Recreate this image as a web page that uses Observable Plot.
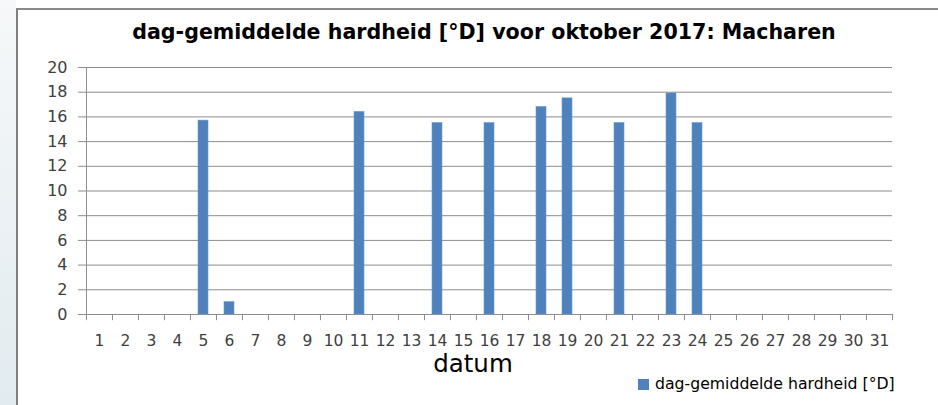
<!DOCTYPE html>
<html><head><meta charset="utf-8">
<script src="https://cdn.jsdelivr.net/npm/d3@7"></script>
<script src="https://cdn.jsdelivr.net/npm/@observablehq/plot@0.6"></script>
<style>
body{margin:0;background:#fff;}
#wrap{position:relative;width:938px;height:405px;overflow:hidden;font-family:"DejaVu Sans",sans-serif;}
#strip{position:absolute;left:0;top:0;width:16px;height:405px;background:linear-gradient(#f6f8f9,#e2ebf0);}
#frame{position:absolute;left:16px;top:8px;width:930px;height:410px;border-left:2px solid #7f7f7f;border-top:2px solid #8a8a8a;}
#chart{position:absolute;left:0;top:0;}
#title{position:absolute;left:0;width:968px;top:22px;text-align:center;font-weight:bold;font-size:20.6px;line-height:20.6px;color:#000;white-space:nowrap;}
#xlabel{position:absolute;left:0;width:946px;top:353.5px;text-align:center;font-size:24.5px;line-height:19px;color:#000;}
#legend{position:absolute;left:638px;top:376px;font-size:15.7px;line-height:16px;color:#000;white-space:nowrap;}
#legend .sw{display:inline-block;width:11px;height:11px;background:#4f81bd;margin-right:6px;vertical-align:-1px;}
</style>
</head><body>
<div id="wrap">
  <div id="strip"></div>
  <div id="frame"></div>
  <div id="chart"></div>
  <div id="title">dag-gemiddelde hardheid [°D] voor oktober 2017: Macharen</div>
  <div id="xlabel">datum</div>
  <div id="legend"><span class="sw"></span>dag-gemiddelde hardheid [°D]</div>
</div>
<script>
const days = [1,2,3,4,5,6,7,8,9,10,11,12,13,14,15,16,17,18,19,20,21,22,23,24,25,26,27,28,29,30,31];
const hardness = [null,null,null,null,15.7,1.0,null,null,null,null,16.4,null,null,15.5,null,15.5,null,16.8,17.5,null,15.5,null,17.9,15.5,null,null,null,null,null,null,null];
const yTicks = [0,2,4,6,8,10,12,14,16,18,20];

const data = days.map((d, i) => ({day: d, value: hardness[i]})).filter(d => d.value != null);

const W = 938, H = 405, mL = 85, mR = 46, mT = 67, mB = 91;
const step = (W - mL - mR) / days.length;
const grid = "#8c8c8c";

const chart = Plot.plot({
  width: W, height: H,
  marginLeft: mL, marginRight: mR, marginTop: mT, marginBottom: mB,
  style: {fontFamily: "DejaVu Sans", fontSize: "16px", background: "transparent", overflow: "visible"},
  x: {type: "band", domain: days, paddingInner: 0.62, paddingOuter: 0.31, align: 0.5, label: null},
  y: {domain: [0, 20], label: null},
  marks: [
    Plot.ruleY(yTicks, {stroke: grid, strokeWidth: 1}),
    Plot.axisY({ticks: yTicks, tickSize: 7, tickPadding: 11, stroke: grid, fill: "#404040", fontSize: 16}),
    Plot.ruleX([days[0]], {x: d => d, y1: 0, y2: 20, dx: -step / 2, stroke: grid}),
    Plot.ruleX(days, {x: d => d, y1: 0, y2: -0.5, dx: -step / 2, stroke: grid}),
    Plot.ruleX([days[days.length - 1]], {x: d => d, y1: 0, y2: -0.5, dx: step / 2, stroke: grid}),
    Plot.axisX({tickSize: 0, tickPadding: 20, fill: "#404040", fontSize: 15.5}),
    Plot.barY(data, {x: "day", y: "value", fill: "#4f81bd", stroke: "#6d97cc", strokeWidth: 0.6})
  ]
});
document.getElementById("chart").appendChild(chart);
</script>
</body></html>
